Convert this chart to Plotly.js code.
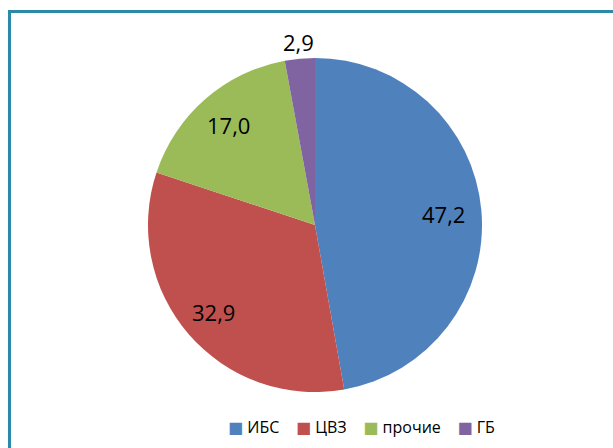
<!DOCTYPE html>
<html>
<head>
<meta charset="utf-8">
<script src="https://cdn.plot.ly/plotly-3.0.1.min.js"></script>
<style>
  html, body { margin:0; padding:0; width:613px; height:448px; overflow:hidden; background:#fff; }
  #chart { position:absolute; left:0; top:0; width:613px; height:448px; }
  #frame { position:absolute; left:8px; top:10px; width:700px; height:600px; border:3px solid #2a8aa8; box-sizing:border-box; pointer-events:none; }
</style>
</head>
<body>
<div id="chart"></div>
<div id="frame"></div>
<script>
const categories = ['ИБС', 'ЦВЗ', 'прочие', 'ГБ'];
const values = [47.2, 32.9, 17.0, 2.9];
const colors = ['#4F81BD', '#C0504D', '#9BBB59', '#8064A2'];
const labelRadius = [0.77, 0.80, 0.79, 1.10];   // label distance as fraction of pie radius

const W = 613, H = 448;
const cx = 315, cy = 225, R = 167;              // pie geometry in pixels

const total = values.reduce((a, b) => a + b, 0);
const annotations = [];
let acc = 0;
values.forEach((v, i) => {
  const mid = (acc + v / 2) / total * 2 * Math.PI;
  acc += v;
  const px = cx + labelRadius[i] * R * Math.sin(mid);
  const py = cy - labelRadius[i] * R * Math.cos(mid);
  annotations.push({
    xref: 'paper', yref: 'paper', x: px / W, y: 1 - py / H,
    xanchor: 'center', yanchor: 'middle', showarrow: false,
    text: v.toFixed(1).replace('.', ','),
    font: { family: 'Open Sans', size: 22, color: '#000' }
  });
});

const sp = '\u00a0';
const legendText = categories.map((c, i) =>
  `<span style="color:${colors[i]};font-family:'DejaVu Sans'">■</span>${sp}${c}`
).join(sp.repeat(4));
annotations.push({
  xref: 'paper', yref: 'paper', x: 361 / W, y: 1 - 427 / H,
  xanchor: 'center', yanchor: 'middle', showarrow: false,
  text: legendText,
  font: { family: 'Open Sans', size: 16, color: '#000' }
});

const trace = {
  type: 'pie',
  labels: categories,
  values: values,
  sort: false,
  direction: 'clockwise',
  rotation: 0,
  marker: { colors: colors, line: { width: 0 } },
  textinfo: 'none',
  hoverinfo: 'label+value',
  domain: { x: [(cx - R) / W, (cx + R) / W], y: [1 - (cy + R) / H, 1 - (cy - R) / H] },
  automargin: false
};

const layout = {
  width: W, height: H,
  margin: { l: 0, r: 0, t: 0, b: 0 },
  paper_bgcolor: '#fff',
  separators: ', ',
  showlegend: false,
  annotations: annotations,
  font: { family: 'Open Sans' }
};

Plotly.newPlot('chart', [trace], layout, { displayModeBar: false, staticPlot: true });
</script>
</body>
</html>
